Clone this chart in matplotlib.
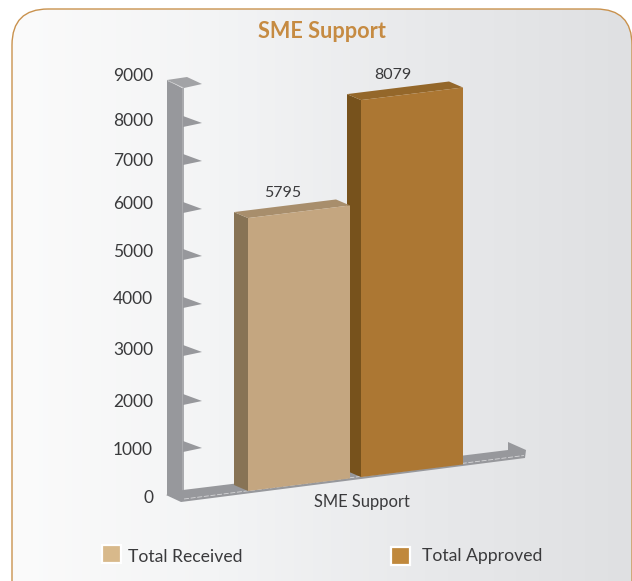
import numpy as np
import matplotlib
matplotlib.use("Agg")
import matplotlib.pyplot as plt
from matplotlib.patches import FancyBboxPatch, Rectangle, Polygon
from matplotlib.colors import LinearSegmentedColormap

# ---- data
title = "SME Support"
category = "SME Support"
series_names = ["Total Received", "Total Approved"]
series_values = [5795, 8079]
tick_values = [0, 1000, 2000, 3000, 4000, 5000, 6000, 7000, 8000, 9000]

# ---- style / layout (pixel space)
plt.rcParams['font.family'] = ['Lato', 'DejaVu Sans']
W, H = 632, 581
TXT = '#3a3a3c'
front = ['#C4A680', '#AC7733']
side = ['#877355', '#77521C']
top = ['#A88E6C', '#94672A']
swatch = ['#D8B98B', '#C0883C']
bar_left = [248, 361]
bar_w = 102
depth = (-14, -6)
tick_label_y = [498, 450, 402, 350, 299, 252, 204, 161, 121, 76]
tick_mark_y = [None, 447, 400, 351, 303, 255, 208, 160, 122, None]
GREY, GREY_L = '#97989C', '#A9AAAD'

fig = plt.figure(figsize=(W / 100, H / 100), dpi=100)
ax = fig.add_axes([0, 0, 1, 1])
ax.set_xlim(0, W)
ax.set_ylim(H, 0)
ax.axis('off')

# background panel
cmap = LinearSegmentedColormap.from_list('bg', ['#FBFBFB', '#F3F4F5', '#E8E9EB', '#DFE0E2'])
img = ax.imshow(np.linspace(0, 1, 256)[None, :], extent=(12, 632, 600, 9), cmap=cmap,
                aspect='auto', zorder=0)
panel = FancyBboxPatch((12 + 36, 9 + 36), 620 - 72, 600, boxstyle='round,pad=36,rounding_size=36',
                       fc='none', ec='#C9924E', lw=1.0, zorder=1)
ax.add_patch(panel)
img.set_clip_path(panel)
ax.set_xlim(0, W)
ax.set_ylim(H, 0)


def base_y(x):
    return 491 - 0.1235 * (x - 248)


def scale(x):
    return 0.0471 - 3.9e-6 * (x - 248)


def poly(points, color, z):
    ax.add_patch(Polygon(points, closed=True, fc=color, ec='none', lw=0, zorder=z))


# wall column
poly([(167, 80), (182, 88), (182, 501), (167, 495)], GREY, 2)
poly([(182, 88), (184, 87), (184, 492), (182, 494)], GREY_L, 2)
# top tab of the wall
poly([(167, 80), (187, 77), (202, 84), (184, 88)], '#A2A3A6', 3)
ax.plot([168, 184], [81, 88], color='#C8C8CA', lw=0.6, ls=(0, (2, 1)), zorder=3)
# tick tabs
for ym in tick_mark_y:
    if ym is not None:
        poly([(183, ym - 6), (202, ym + 1), (183, ym + 5)], GREY, 3)

# floor
poly([(166, 495), (183, 490), (508, 450), (508, 442), (526, 450), (525, 458), (181, 502)], GREY, 2)
ax.plot([184, 524], [499, 455.5], color='#D6D6D8', lw=0.6, ls=(0, (6, 2)), zorder=3)

# bars, second series first so the first overlaps its side
for i in (1, 0):
    x0, x1 = bar_left[i], bar_left[i] + bar_w
    v = series_values[i]
    dx, dy = depth
    h = v * scale(x0)
    fb, ft = (x0, base_y(x0)), (x0, base_y(x0) - h)
    rb, rt = (x1, base_y(x1)), (x1, base_y(x1) - h)
    z = 5 + (1 - i)
    poly([fb, ft, (ft[0] + dx, ft[1] + dy), (fb[0] + dx, fb[1] + dy)], side[i], z)
    poly([ft, rt, (rt[0] + dx, rt[1] + dy), (ft[0] + dx, ft[1] + dy)], top[i], z)
    poly([fb, ft, rt, rb], front[i], z)
    ax.text((x0 + x1) / 2 - 16 - 3 * i, ft[1] - 25, f"{v}", ha='center', va='center',
            fontsize=11.5, color=TXT, zorder=8)

# tick labels
for v, y in zip(tick_values, tick_label_y):
    ax.text(153, y, str(v), ha='right', va='center', fontsize=12.5, color=TXT, zorder=8)

# category label, title
ax.text(362, 502, category, ha='center', va='center', fontsize=11.9, color=TXT, zorder=8)
ax.text(322, 31.5, title, ha='center', va='center', fontsize=15.6, fontweight='bold', color='#C68B42', zorder=8)

# legend
legend_sw_x = [102, 391]
legend_tx_x = [128, 422]
legend_sw_y = [545, 547]
for i, name in enumerate(series_names):
    ax.add_patch(Rectangle((legend_sw_x[i], legend_sw_y[i]), 19, 18, fc=swatch[i], ec='white', lw=1.6, zorder=8))
    ax.text(legend_tx_x[i], 556.5, name, ha='left', va='center', fontsize=12.7, color=TXT, zorder=8)

fig.savefig('out.png', dpi=100)
